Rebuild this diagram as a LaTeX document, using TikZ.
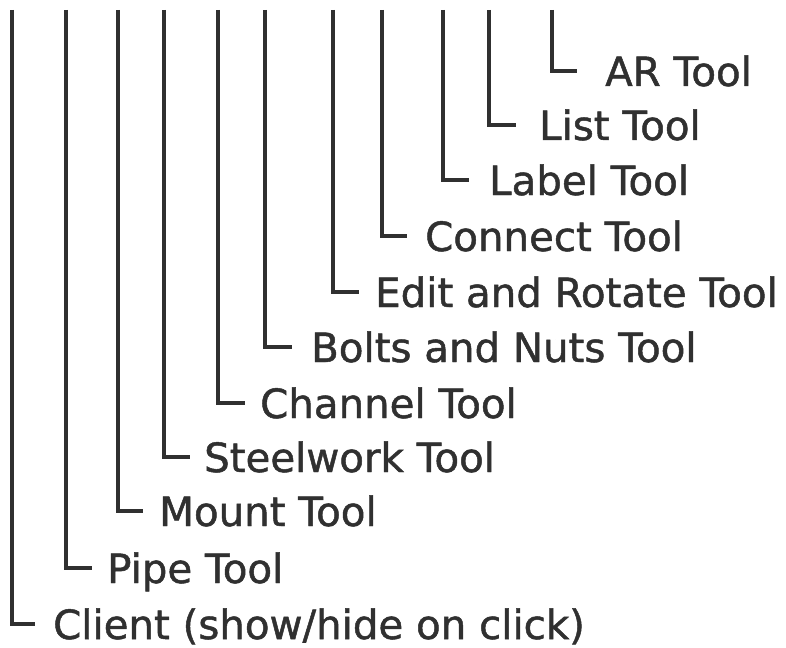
\documentclass[tikz,border=0pt]{standalone}
\usepackage{fontspec}
\setmainfont{DejaVu Sans}[FakeBold=1.2]
\definecolor{ink}{HTML}{303030}
\begin{document}
\begin{tikzpicture}[x=1pt,y=-1pt,
  treeline/.style={draw=ink,line width=3.2pt,line cap=butt,line join=miter},
  itemlabel/.style={anchor=base west,inner sep=0pt,text=ink,font=\fontsize{40.3}{41}\selectfont}]
\useasboundingbox (0,0) rectangle (786,647);
% name / line x / stub y / stub end x / text x / text
\foreach \n/\lx/\sy/\ex/\tx/\txt in {
  client/12/624/35/53/{Client (show/hide on click)},
  pipe/66/568/92/107/{Pipe Tool},
  mount/118/511/143/159/{Mount Tool},
  steel/164/457/190/204/{Steelwork Tool},
  channel/218/403/245/260/{Channel Tool},
  bolts/265/347/292/311/{Bolts and Nuts Tool},
  edit/333/292/359/375/{Edit and Rotate Tool},
  connect/382/236/407/425/{Connect Tool},
  label/443/180/469/489/{Label Tool},
  list/489/125/516/539/{List Tool},
  ar/552/71/577/605/{AR Tool}}{
  \node[itemlabel] (\n) at (\tx,\sy+15) {\txt};
  \coordinate (\n top) at (\lx,10);
  \coordinate (\n end) at (\ex,\sy);
  \draw[treeline] (\n top) |- (\n end);
}
\end{tikzpicture}
\end{document}
